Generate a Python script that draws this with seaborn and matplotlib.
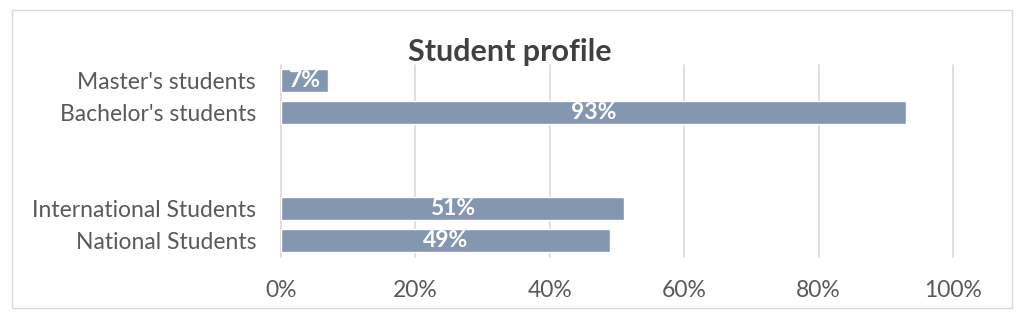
import numpy as np
import pandas as pd
import matplotlib
matplotlib.use("Agg")
import matplotlib.pyplot as plt
import seaborn as sns
from matplotlib.patches import Rectangle

categories = ["Master's students", "Bachelor's students", "", " ",
              "International Students", "National Students"]
values = [7, 93, np.nan, np.nan, 51, 49]
xticks = [0, 20, 40, 60, 80, 100]
xticklabels = ["0%", "20%", "40%", "60%", "80%", "100%"]
title = "Student profile"

sns.set_theme(style="white")
plt.rcParams['font.family'] = ['Lato', 'DejaVu Sans']

df = pd.DataFrame({"category": categories, "value": values})

fig = plt.figure(figsize=(10.24, 3.21), dpi=100)
ax = fig.add_axes([281/1024, 1 - 256.5/321, 672/1024, 192/321])

sns.barplot(data=df.dropna(), x="value", y="category", order=categories,
            color="#8497B0", saturation=1, width=0.72, ax=ax, orient="h")

ax.set_xlim(0, 100)
ax.set_ylim(5.5, -0.5)
ax.set_xticks(xticks)
ax.set_xticklabels(xticklabels)
ax.set_xlabel("")
ax.set_ylabel("")
ax.grid(axis="x", color="#D9D9D9", linewidth=1.2)
for gl in ax.get_xgridlines():
    gl.set_clip_on(False)
ax.set_axisbelow(True)
for s in ax.spines.values():
    s.set_visible(False)
ax.tick_params(axis="both", length=0, labelsize=16.5, colors="#595959")
ax.tick_params(axis="y", pad=18)
ax.tick_params(axis="x", pad=17)

for c in ax.containers:
    ax.bar_label(c, fmt="%.0f%%", label_type="center", color="white",
                 fontweight="bold", fontsize=16.5)

fig.text(510/1024, 1 - 52/321, title, ha="center", va="center",
         fontsize=22, fontweight="bold", color="#404040")

fig.patches.append(Rectangle((12/1024, 1 - 308/321), 1000/1024, 298/321,
                             transform=fig.transFigure, fill=False,
                             edgecolor="#D9D9D9", linewidth=1))

fig.savefig("out.png", dpi=100)
